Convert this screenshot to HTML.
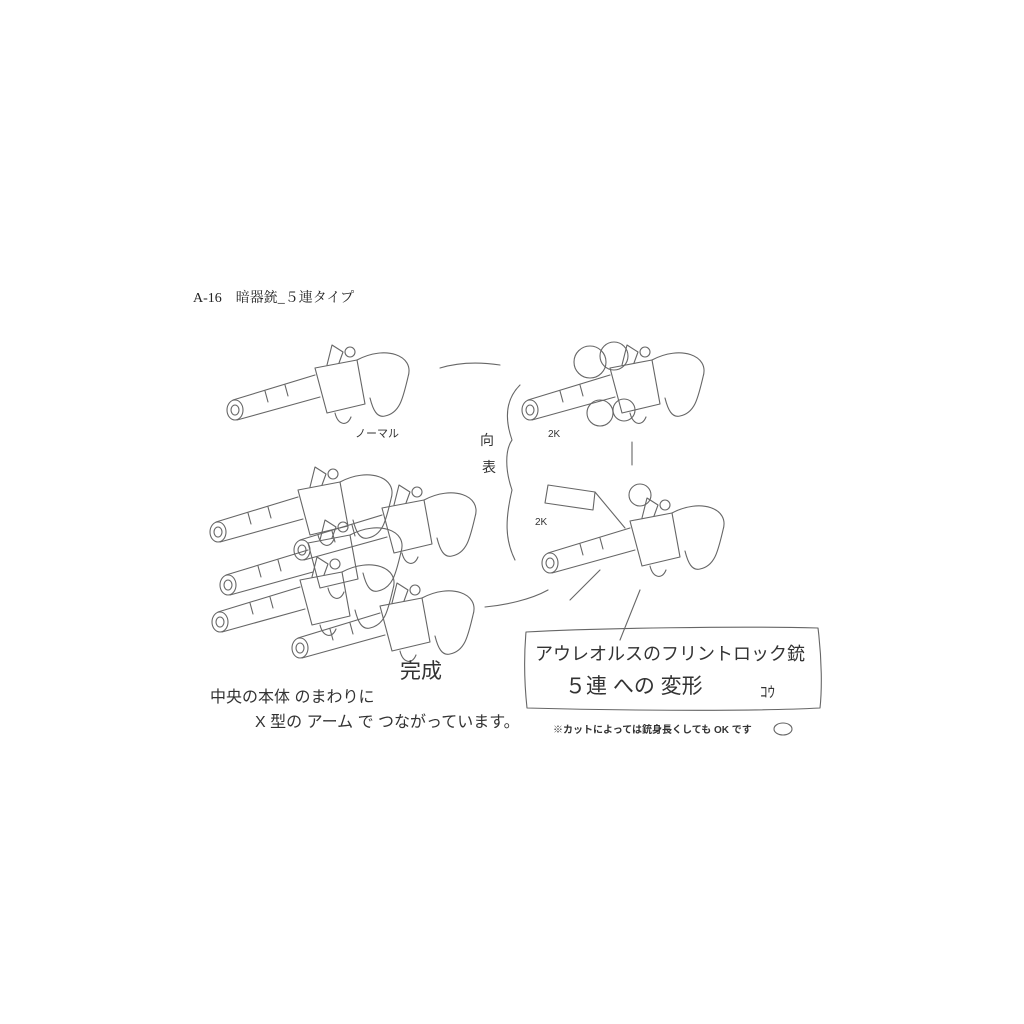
<!DOCTYPE html>
<html><head><meta charset="utf-8"><style>
html,body{margin:0;padding:0;background:#fff;}
svg{display:block}
.s{fill:none;stroke:#666;stroke-width:1.1;stroke-linecap:round;stroke-linejoin:round}
.h{font-family:"Liberation Sans","WenQuanYi Zen Hei","Noto Sans CJK JP",sans-serif;fill:#333}
.t{font-family:"Liberation Serif","Noto Serif CJK SC",serif;fill:#222}
</style></head><body>
<svg width="1024" height="1024" viewBox="0 0 1024 1024">
<defs>
<g id="gun" class="s">
<ellipse cx="0" cy="0" rx="8" ry="10"/><ellipse cx="0" cy="0" rx="4" ry="5"/>
<path d="M-2,-10 L80,-35 M2,10 L85,-13"/>
<path d="M30,-19 L33,-8 M50,-25 L53,-14"/>
<path d="M80,-42 L122,-50 L130,-6 L92,3 Z"/>
<path d="M92,-45 L97,-65 L108,-58 L104,-47"/>
<path d="M122,-50 C150,-65 180,-55 173,-33 C168,-12 165,3 150,6 C142,8 138,0 135,-12"/>
<path d="M100,3 C103,15 112,17 116,7"/>
<circle cx="115" cy="-58" r="5"/>
</g>
</defs>
<text class="t" x="193" y="302" font-size="14">A-16　暗器銃_５連タイプ</text>

<use href="#gun" x="235" y="410"/>
<text class="h" x="355" y="437" font-size="11">ノーマル</text>

<use href="#gun" x="530" y="410"/>
<g class="s"><circle cx="590" cy="362" r="16"/><circle cx="614" cy="356" r="14"/><circle cx="600" cy="413" r="13"/><circle cx="624" cy="410" r="11"/></g>
<text class="h" x="548" y="437" font-size="10">2K</text>

<path class="s" d="M440,368 C460,362 480,362 500,365"/>
<path class="s" d="M520,385 C505,400 505,420 512,440 C505,450 505,470 512,490 C505,520 505,540 515,560"/>
<text class="h" x="480" y="445" font-size="14">向</text>
<text class="h" x="482" y="472" font-size="14">表</text>
<path class="s" d="M632,442 L632,465" />

<use href="#gun" x="550" y="563"/>
<g class="s"><path d="M548,485 L595,492 L593,510 L545,503 Z M595,492 L625,528"/><path d="M570,600 L600,570 M620,640 L640,590"/><circle cx="640" cy="495" r="11"/></g>
<text class="h" x="535" y="525" font-size="10">2K</text>
<path class="s" d="M548,590 C530,600 505,605 485,607"/>

<use href="#gun" x="218" y="532"/>
<use href="#gun" x="302" y="550"/>
<use href="#gun" x="228" y="585"/>
<use href="#gun" x="220" y="622"/>
<use href="#gun" x="300" y="648"/>

<text class="h" x="400" y="678" font-size="21">完成</text>
<text class="h" x="210" y="702" font-size="16">中央の本体 のまわりに</text>
<text class="h" x="255" y="727" font-size="16">X 型の アーム で つながっています。</text>

<path class="s" d="M526,632 C600,628 740,626 818,628 C822,660 822,690 820,708 C740,712 600,710 527,708 C524,680 524,655 526,632 Z"/>
<text class="h" x="535" y="660" font-size="18">アウレオルスのフリントロック銃</text>
<text class="h" x="565" y="693" font-size="21">５連 への 変形</text>
<text class="h" x="760" y="697" font-size="15">ｺｳ</text>
<text class="h" x="553" y="733" font-size="10" font-weight="bold">※カットによっては銃身長くしても OK です</text>
<ellipse class="s" cx="783" cy="729" rx="9" ry="6"/>
</svg>
</body></html>
